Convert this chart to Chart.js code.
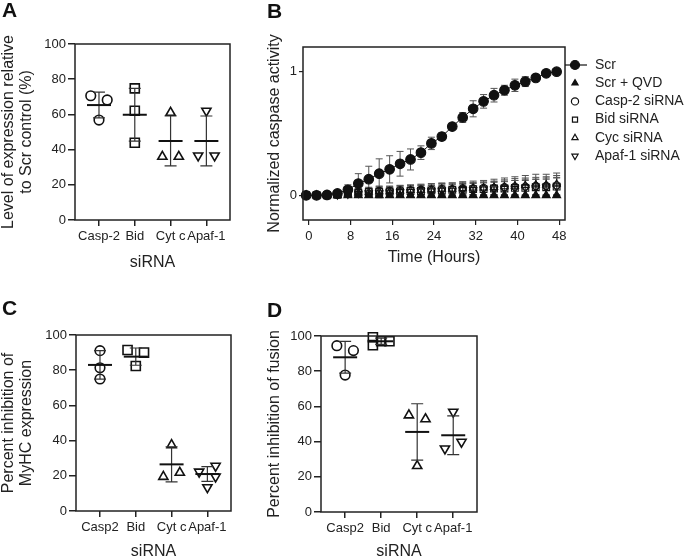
<!DOCTYPE html>
<html>
<head>
<meta charset="utf-8">
<script src="https://cdn.jsdelivr.net/npm/chart.js@4.4.0/dist/chart.umd.min.js"></script>
<style>
  html, body { margin: 0; padding: 0; background: #fff; width: 685px; height: 559px; overflow: hidden; }
  canvas { position: absolute; }
  .lbl { position: absolute; font: bold 21px "Liberation Sans", Arial, sans-serif; line-height: 21px; color: #111; z-index: 2; }
</style>
</head>
<body>
<canvas id="cA" width="250" height="280" style="left:0;top:0"></canvas>
<canvas id="cB" width="435" height="280" style="left:250px;top:0"></canvas>
<canvas id="cC" width="250" height="300" style="left:0;top:275px"></canvas>
<canvas id="cD" width="250" height="300" style="left:250px;top:275px"></canvas>
<div class="lbl" style="left:2px;top:-1px">A</div>
<div class="lbl" style="left:267px;top:0px">B</div>
<div class="lbl" style="left:2px;top:297px">C</div>
<div class="lbl" style="left:267px;top:299px">D</div>
<script>
// ---- data ----
var groupsA = ['Casp-2', 'Bid', 'Cyt c', 'Apaf-1'];
var groupsCD = ['Casp2', 'Bid', 'Cyt c', 'Apaf-1'];
var pctTicks = [0, 20, 40, 60, 80, 100];

// A: level of expression relative to Scr control (%)
var aValues = [[70.6, 68.2, 56.8], [74.8, 62.1, 43.9], [61, 36, 36], [62, 36.6, 36.6]];
var aJitter = [[-0.23, 0.23, 0], [0, 0, 0], [0, -0.23, 0.23], [0, -0.23, 0.23]];
var aMean = [65.3, 59.8, 44.9, 44.9];
var aSd = [7.3, 15, 14.2, 14.2];

// C: percent inhibition of MyHC expression
var cValues = [[91.1, 81.4, 75], [91.5, 90, 82.4], [37.5, 19.5, 21.8], [22.3, 25.6, 19.5, 13.4]];
var cJitter = [[0, 0, 0], [-0.23, 0.23, 0], [0, -0.23, 0.23], [-0.23, 0.23, 0.23, 0]];
var cMean = [83, 87.7, 26.5, 21];
var cSd = [8.1, 4.9, 9.9, 4.2];

// D: percent inhibition of fusion
var dValues = [[94.5, 91.7, 77.8], [99.3, 94.8, 97, 97], [55, 52.8, 26.2], [56.9, 36, 39.8]];
var dJitter = [[-0.23, 0.23, 0], [-0.23, -0.23, 0, 0.23], [-0.23, 0.23, 0], [0, -0.23, 0.23]];
var dMean = [87.9, 97, 45.5, 43.6];
var dSd = [9, 1.8, 16, 11];

// B: normalized caspase activity over time
var hours = [-0.5, 1.5, 3.5, 5.5, 7.5, 9.5, 11.5, 13.5, 15.5, 17.5, 19.5, 21.5, 23.5,
             25.5, 27.5, 29.5, 31.5, 33.5, 35.5, 37.5, 39.5, 41.5, 43.5, 45.5, 47.5];
var hourTicks = [0, 8, 16, 24, 32, 40, 48];
var scr = [0, 0, 0.003, 0.015, 0.045, 0.095, 0.13, 0.175, 0.21, 0.255, 0.29, 0.345, 0.42,
           0.475, 0.556, 0.63, 0.70, 0.76, 0.81, 0.85, 0.89, 0.92, 0.95, 0.987, 1.0];
var scrSd = [0.005, 0.005, 0.005, 0.01, 0.04, 0.08, 0.105, 0.12, 0.11, 0.10, 0.085, 0.055, 0.05,
             0.03, 0.02, 0.04, 0.065, 0.055, 0.055, 0.04, 0.05, 0.04, 0.025, 0.01, 0.005];
var qvd = [0, 0, 0, 0, 0, 0, 0, 0, 0, 0, 0, 0, 0, 0, 0, 0, 0, 0, 0, 0, 0, 0, 0, 0, 0];
var qvdSd = [0.004, 0.004, 0.004, 0.004, 0.004, 0.004, 0.004, 0.004, 0.004, 0.004, 0.004, 0.004, 0.004,
             0.004, 0.004, 0.004, 0.004, 0.004, 0.004, 0.004, 0.004, 0.004, 0.004, 0.004, 0.004];
var casp2Si = [0, 0, 0, 0.005, 0.015, 0.025, 0.03, 0.035, 0.035, 0.04, 0.04, 0.045, 0.045,
               0.05, 0.05, 0.055, 0.055, 0.06, 0.06, 0.065, 0.07, 0.07, 0.075, 0.075, 0.08];
var casp2SiSd = [0.005, 0.005, 0.005, 0.01, 0.02, 0.03, 0.035, 0.04, 0.04, 0.04, 0.04, 0.045, 0.045,
                 0.045, 0.05, 0.05, 0.05, 0.055, 0.055, 0.06, 0.065, 0.07, 0.07, 0.075, 0.08];
var bidSi = [0, 0, 0, 0.003, 0.01, 0.02, 0.025, 0.025, 0.03, 0.03, 0.035, 0.035, 0.04,
             0.04, 0.045, 0.045, 0.05, 0.05, 0.055, 0.055, 0.06, 0.06, 0.065, 0.065, 0.07];
var bidSiSd = [0.005, 0.005, 0.005, 0.01, 0.02, 0.025, 0.03, 0.035, 0.035, 0.035, 0.04, 0.04, 0.04,
               0.04, 0.045, 0.045, 0.045, 0.05, 0.05, 0.055, 0.06, 0.06, 0.065, 0.065, 0.07];
var cycSi = [0, 0, 0, 0.004, 0.012, 0.02, 0.025, 0.03, 0.03, 0.035, 0.04, 0.04, 0.045,
             0.05, 0.05, 0.055, 0.06, 0.06, 0.065, 0.07, 0.075, 0.08, 0.085, 0.085, 0.09];
var cycSiSd = [0.005, 0.005, 0.005, 0.01, 0.02, 0.03, 0.035, 0.04, 0.04, 0.045, 0.045, 0.045, 0.05,
               0.05, 0.05, 0.055, 0.055, 0.06, 0.065, 0.07, 0.075, 0.08, 0.085, 0.085, 0.09];
var apafSi = [0, 0, 0, 0.002, 0.008, 0.015, 0.02, 0.02, 0.025, 0.03, 0.03, 0.035, 0.035,
              0.04, 0.04, 0.045, 0.045, 0.05, 0.05, 0.055, 0.055, 0.06, 0.06, 0.065, 0.065];
var apafSiSd = [0.005, 0.005, 0.005, 0.01, 0.02, 0.03, 0.035, 0.04, 0.04, 0.04, 0.045, 0.045, 0.045,
                0.05, 0.05, 0.05, 0.055, 0.055, 0.06, 0.06, 0.065, 0.07, 0.07, 0.075, 0.08];

// ---- style ----
var ink = '#222';
var fontFam = '"Liberation Sans", Arial, Helvetica, sans-serif';
var markStyles = ['circle', 'rect', 'triangle', 'triangle'];
var markRot = [0, 0, 0, 180];
var markRad = [4.8, 6.4, 5.3, 5.3];

// draws rectangle round the plot area
var framePlugin = {
  id: 'frame',
  afterDraw: function(chart) {
    var a = chart.chartArea, ctx = chart.ctx;
    ctx.save();
    ctx.strokeStyle = ink;
    ctx.lineWidth = 1.5;
    ctx.strokeRect(a.left, a.top, a.right - a.left, a.bottom - a.top);
    ctx.restore();
  }
};

function statsPlugin(mean, sd) {
  return {
    id: 'stats',
    afterDatasetsDraw: function(chart) {
      var ctx = chart.ctx, x = chart.scales.x, y = chart.scales.y;
      ctx.save();
      mean.forEach(function(m, i) {
        var px = x.getPixelForValue(i + 1);
        var top = y.getPixelForValue(m + sd[i]);
        var bot = y.getPixelForValue(m - sd[i]);
        var pm = y.getPixelForValue(m);
        ctx.strokeStyle = '#333';
        ctx.lineWidth = 1.2;
        ctx.beginPath();
        ctx.moveTo(px, top); ctx.lineTo(px, bot);
        ctx.moveTo(px - 6, top); ctx.lineTo(px + 6, top);
        ctx.moveTo(px - 6, bot); ctx.lineTo(px + 6, bot);
        ctx.stroke();
        ctx.strokeStyle = '#111';
        ctx.lineWidth = 2;
        ctx.beginPath();
        ctx.moveTo(px - 12, pm); ctx.lineTo(px + 12, pm);
        ctx.stroke();
      });
      ctx.restore();
    }
  };
}

function dotPlot(id, labels, values, jitter, mean, sd, yTitle, g) {
  var datasets = values.map(function(vals, i) {
    return {
      data: vals.map(function(v, k) { return { x: i + 1 + jitter[i][k], y: v }; }),
      pointStyle: markStyles[i],
      pointRotation: markRot[i],
      pointRadius: markRad[i],
      pointBorderWidth: 1.6,
      borderColor: '#111',
      backgroundColor: 'rgba(255,255,255,0)',
      showLine: false,
      clip: false
    };
  });
  return new Chart(document.getElementById(id), {
    type: 'scatter',
    data: { datasets: datasets },
    plugins: [framePlugin, statsPlugin(mean, sd)],
    options: {
      responsive: false,
      animation: false,
      events: [],
      layout: { padding: { top: g.top, right: g.right, left: 0, bottom: 0 } },
      plugins: { legend: { display: false }, tooltip: { enabled: false } },
      scales: {
        x: {
          type: 'linear', min: 0.33, max: 4.66,
          afterBuildTicks: function(s) { s.ticks = labels.map(function(l, i) { return { value: i + 1 }; }); },
          afterFit: function(s) { s.height = g.xH; },
          grid: { drawOnChartArea: false, drawTicks: true, tickLength: 6, color: ink, lineWidth: 1.5 },
          border: { display: false },
          ticks: { autoSkip: false, maxRotation: 0, minRotation: 0, padding: 3, color: ink,
                   font: { family: fontFam, size: 13 },
                   callback: function(v, i) { return labels[i]; } },
          title: { display: true, text: 'siRNA', color: ink, font: { family: fontFam, size: 16 },
                   padding: { top: 0, bottom: g.xTitlePad } }
        },
        y: {
          min: 0, max: 100,
          afterBuildTicks: function(s) { s.ticks = pctTicks.map(function(v) { return { value: v }; }); },
          afterFit: function(s) { s.width = g.yW; },
          grid: { drawOnChartArea: false, drawTicks: true, tickLength: 7, color: ink, lineWidth: 1.5 },
          border: { display: false },
          ticks: { padding: 2, color: ink, font: { family: fontFam, size: 13 } },
          title: { display: true, text: yTitle, color: ink,
                   font: { family: fontFam, size: 16, lineHeight: 1.07 },
                   padding: { top: g.yTitlePad, bottom: 0 } }
        }
      }
    }
  });
}

dotPlot('cA', groupsA, aValues, aJitter, aMean, aSd,
  ['Level of expression relative', 'to Scr control (%)'],
  { top: 44, right: 20, xH: 60, yW: 75, xTitlePad: 8, yTitlePad: 0.5 });
dotPlot('cC', groupsCD, cValues, cJitter, cMean, cSd,
  ['Percent inhibition of', 'MyHC expression'],
  { top: 60, right: 19, xH: 64, yW: 76, xTitlePad: 13.4, yTitlePad: 0.5 });
dotPlot('cD', groupsCD, dValues, dJitter, dMean, dSd,
  'Percent inhibition of fusion',
  { top: 61, right: 23, xH: 63, yW: 71, xTitlePad: 13.7, yTitlePad: 16.2 });

// ---- B: time course ----
var seriesB = [
  { label: 'Scr', y: scr, sd: scrSd, style: 'circle', rot: 0, r: 4.8, fill: true, line: true },
  { label: 'Scr + QVD', y: qvd, sd: qvdSd, style: 'triangle', rot: 0, r: 4.6, fill: true, line: false },
  { label: 'Casp-2 siRNA', y: casp2Si, sd: casp2SiSd, style: 'circle', rot: 0, r: 3.6, fill: false, line: false },
  { label: 'Bid siRNA', y: bidSi, sd: bidSiSd, style: 'rect', rot: 0, r: 4.8, fill: false, line: false },
  { label: 'Cyc siRNA', y: cycSi, sd: cycSiSd, style: 'triangle', rot: 0, r: 4.2, fill: false, line: false },
  { label: 'Apaf-1 siRNA', y: apafSi, sd: apafSiSd, style: 'triangle', rot: 180, r: 4.2, fill: false, line: false }
];

var errPluginB = {
  id: 'errB',
  beforeDatasetsDraw: function(chart) {
    var ctx = chart.ctx, x = chart.scales.x, y = chart.scales.y;
    ctx.save();
    ctx.strokeStyle = '#555';
    ctx.lineWidth = 1;
    seriesB.forEach(function(s) {
      s.y.forEach(function(v, i) {
        var px = x.getPixelForValue(hours[i]);
        var t = y.getPixelForValue(v + s.sd[i]), b = y.getPixelForValue(v - s.sd[i]);
        ctx.beginPath();
        ctx.moveTo(px, t); ctx.lineTo(px, b);
        ctx.moveTo(px - 3.5, t); ctx.lineTo(px + 3.5, t);
        ctx.moveTo(px - 3.5, b); ctx.lineTo(px + 3.5, b);
        ctx.stroke();
      });
    });
    ctx.restore();
  }
};

function legendMark(ctx, style, rot, x, y, r, fill) {
  ctx.beginPath();
  if (style === 'circle') {
    ctx.arc(x, y, r, 0, Math.PI * 2);
  } else if (style === 'rect') {
    var h = r * Math.SQRT1_2;
    ctx.rect(x - h, y - h, 2 * h, 2 * h);
  } else {
    var a = rot * Math.PI / 180;
    for (var k = 0; k < 3; k++) {
      var px = x + Math.sin(a) * r, py = y - Math.cos(a) * r;
      if (k === 0) ctx.moveTo(px, py); else ctx.lineTo(px, py);
      a += Math.PI * 2 / 3;
    }
    ctx.closePath();
  }
  if (fill) { ctx.fillStyle = '#111'; ctx.fill(); }
  ctx.stroke();
}

var legendPluginB = {
  id: 'legendB',
  afterDraw: function(chart) {
    var ctx = chart.ctx, a = chart.chartArea;
    ctx.save();
    ctx.strokeStyle = '#111';
    ctx.lineWidth = 1.2;
    ctx.font = '14px ' + fontFam;
    ctx.textBaseline = 'middle';
    seriesB.forEach(function(s, i) {
      var ry = a.top + 18 + i * 18.2;
      var mx = a.right + 10;
      if (s.line) {
        ctx.beginPath(); ctx.moveTo(a.right, ry); ctx.lineTo(a.right + 22, ry); ctx.stroke();
      }
      legendMark(ctx, s.style, s.rot, mx, ry, s.line ? 4.5 : 3.6, s.fill);
      ctx.fillStyle = ink;
      ctx.fillText(s.label, a.right + 30, ry);
    });
    ctx.restore();
  }
};

new Chart(document.getElementById('cB'), {
  type: 'scatter',
  data: {
    datasets: seriesB.map(function(s) {
      return {
        label: s.label,
        data: s.y.map(function(v, i) { return { x: hours[i], y: v }; }),
        pointStyle: s.style,
        pointRotation: s.rot,
        pointRadius: s.r,
        pointBorderWidth: 1.1,
        borderColor: '#111',
        borderWidth: 1,
        backgroundColor: s.fill ? '#111' : 'rgba(255,255,255,0)',
        showLine: s.line,
        clip: false
      };
    })
  },
  plugins: [framePlugin, errPluginB, legendPluginB],
  options: {
    responsive: false,
    animation: false,
    events: [],
    layout: { padding: { top: 47, right: 120, left: 0, bottom: 0 } },
    plugins: { legend: { display: false }, tooltip: { enabled: false } },
    scales: {
      x: {
        type: 'linear', min: -1.1, max: 49.1,
        afterBuildTicks: function(s) { s.ticks = hourTicks.map(function(v) { return { value: v }; }); },
        afterFit: function(s) { s.height = 60; },
        grid: { drawOnChartArea: false, drawTicks: true, tickLength: 5, color: ink, lineWidth: 1.2 },
        border: { display: false },
        ticks: { autoSkip: false, maxRotation: 0, padding: 4, color: ink, font: { family: fontFam, size: 13 } },
        title: { display: true, text: 'Time (Hours)', color: ink, font: { family: fontFam, size: 16 },
                 padding: { top: 0, bottom: 12.4 } }
      },
      y: {
        min: -0.2, max: 1.2,
        afterBuildTicks: function(s) { s.ticks = [0, 1].map(function(v) { return { value: v }; }); },
        afterFit: function(s) { s.width = 53; },
        grid: { drawOnChartArea: false, drawTicks: true, tickLength: 4, color: ink, lineWidth: 1.2 },
        border: { display: false },
        ticks: { padding: 2, color: ink, font: { family: fontFam, size: 13 } },
        title: { display: true, text: 'Normalized caspase activity', color: ink,
                 font: { family: fontFam, size: 16, lineHeight: 1.1 },
                 padding: { top: 16.2, bottom: 0 } }
      }
    }
  }
});
</script>
</body>
</html>
